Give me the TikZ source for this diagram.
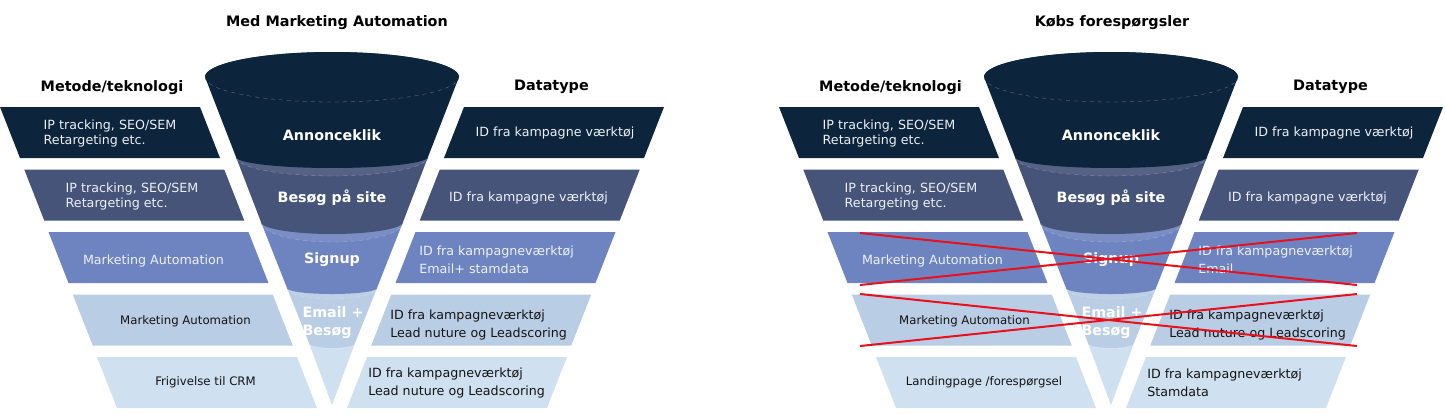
\documentclass[tikz,border=0pt]{standalone}
\usepackage{fontspec}
\setmainfont{DejaVu Sans}
\definecolor{navy}{HTML}{0C243C}
\definecolor{slate}{HTML}{46547A}
\definecolor{periwink}{HTML}{6E84C0}
\definecolor{skyblue}{HTML}{B9CDE4}
\definecolor{paleblue}{HTML}{CFE0F0}
\definecolor{litetext}{HTML}{EDF0F6}
\definecolor{darktext}{HTML}{141414}
\definecolor{crossred}{HTML}{E8101A}

% one slice of the funnel: colour, top y, top half width, top y radius,
% bottom y, bottom half width, bottom y radius, share of colour in the rim
\newcommand{\funnelpart}[8]{%
  \fill[#1] (-#3,#2) -- (-#6,#5)
    -- plot[domain=180:360, samples=36] ({#6*cos(\x)}, {#5-#7*sin(\x)})
    -- (#3,#2)
    -- plot[domain=0:180, samples=36] ({#3*cos(\x)}, {#2-#4*sin(\x)}) -- cycle;
  \fill[#1!#8!white] (0,#2) ellipse [x radius=#3, y radius=#4];
  \draw[#1!55!white, dashed, very thin]
    plot[domain=180:360, samples=36] ({#3*cos(\x)}, {#2-#4*sin(\x)});
}

\begin{document}
\begin{tikzpicture}[
    x=0.75pt, y=-0.75pt,
    every node/.style={font=\fontsize{9.5}{11.3}\selectfont, inner sep=0pt},
    head/.style={font=\fontsize{10.8}{13}\selectfont\bfseries, text=black},
    stage/.style={font=\fontsize{10.7}{13.5}\selectfont\bfseries, text=white},
    lite/.style={text=litetext},
    dark/.style={text=darktext},
    small/.style={font=\fontsize{8.8}{11}\selectfont},
    wide/.style={font=\fontsize{9.5}{13.5}\selectfont, align=left, anchor=west},
    cross/.style={crossred, line width=1.5pt},
]
\useasboundingbox (0,0) rectangle (1446,419);

% ===== Left diagram: Med Marketing Automation =====
\begin{scope}[shift={(332,0)}]
    % Funnel, drawn from the tip upwards
    \funnelpart{paleblue}{343}{23}{6}{405}{0}{0}{94}
    \funnelpart{skyblue}{288}{45}{11}{343}{23}{5}{94}
    \funnelpart{periwink}{222}{71}{20}{288}{45}{6}{92}
    \funnelpart{slate}{157}{96}{19}{222}{71}{12}{92}
    \funnelpart{navy}{77}{127}{25}{157}{96}{11}{100}

    \node[stage] (a-ann) at (0,135) {Annonceklik};
    \node[stage] (a-visit) at (0,198) {Besøg på site};
    \node[stage] (a-signup) at (0,260) {Signup};
    \node[stage, align=left] (a-email) at (1,323) {Email +\\Besøg};

    % Metode/teknologi column
    \fill[navy] (-332,107) -- ++(200,0) -- ++(20,51) -- ++(-200,0) -- cycle;
    \fill[slate] (-307.75,169.5) -- ++(200,0) -- ++(20,51) -- ++(-200,0) -- cycle;
    \fill[periwink] (-283.5,232) -- ++(200,0) -- ++(20,51) -- ++(-200,0) -- cycle;
    \fill[skyblue] (-259.25,294.5) -- ++(200,0) -- ++(20,51) -- ++(-200,0) -- cycle;
    \fill[paleblue] (-235,357) -- ++(200,0) -- ++(20,51) -- ++(-200,0) -- cycle;

    \node[lite, align=left] (a-m1) at (-222,133.5) {IP tracking, SEO/SEM\\Retargeting etc.};
    \node[lite, align=left] (a-m2) at (-200,196.5) {IP tracking, SEO/SEM\\Retargeting etc.};
    \node[lite] (a-m3) at (-178.5,261) {Marketing Automation};
    \node[dark, small] (a-m4) at (-146.5,321) {Marketing Automation};
    \node[dark, small] (a-m5) at (-126.5,382) {Frigivelse til CRM};

    % Datatype column
    \fill[navy] (132,107) -- ++(200,0) -- ++(-20,51) -- ++(-200,0) -- cycle;
    \fill[slate] (107.75,169.5) -- ++(200,0) -- ++(-20,51) -- ++(-200,0) -- cycle;
    \fill[periwink] (83.5,232) -- ++(200,0) -- ++(-20,51) -- ++(-200,0) -- cycle;
    \fill[skyblue] (59.25,294.5) -- ++(200,0) -- ++(-20,51) -- ++(-200,0) -- cycle;
    \fill[paleblue] (35,357) -- ++(200,0) -- ++(-20,51) -- ++(-200,0) -- cycle;

    \node[lite] (a-d1) at (223,133) {ID fra kampagne værktøj};
    \node[lite] (a-d2) at (196.5,198) {ID fra kampagne værktøj};
    \node[lite, wide] (a-d3) at (87,260) {ID fra kampagneværktøj\\Email+ stamdata};
    \node[dark, wide] (a-d4) at (58,325) {ID fra kampagneværktøj\\Lead nuture og Leadscoring};
    \node[dark, wide] (a-d5) at (36,382.5) {ID fra kampagneværktøj\\Lead nuture og Leadscoring};

    % Headings
    \node[head] (a-title) at (5,23) {Med Marketing Automation};
    \node[head] (a-method) at (-220,88) {Metode/teknologi};
    \node[head] (a-data) at (219.5,87) {Datatype};
\end{scope}

% ===== Right diagram: Købs forespørgsler =====
\begin{scope}[shift={(1111,0)}]
    % Funnel, drawn from the tip upwards
    \funnelpart{paleblue}{343}{23}{6}{405}{0}{0}{94}
    \funnelpart{skyblue}{288}{45}{11}{343}{23}{5}{94}
    \funnelpart{periwink}{222}{71}{20}{288}{45}{6}{92}
    \funnelpart{slate}{157}{96}{19}{222}{71}{12}{92}
    \funnelpart{navy}{77}{127}{25}{157}{96}{11}{100}

    \node[stage] (b-ann) at (0,135) {Annonceklik};
    \node[stage] (b-visit) at (0,198) {Besøg på site};
    \node[stage] (b-signup) at (0,260) {Signup};
    \node[stage, align=left] (b-email) at (1,323) {Email +\\Besøg};

    % Metode/teknologi column
    \fill[navy] (-332,107) -- ++(200,0) -- ++(20,51) -- ++(-200,0) -- cycle;
    \fill[slate] (-307.75,169.5) -- ++(200,0) -- ++(20,51) -- ++(-200,0) -- cycle;
    \fill[periwink] (-283.5,232) -- ++(200,0) -- ++(20,51) -- ++(-200,0) -- cycle;
    \fill[skyblue] (-259.25,294.5) -- ++(200,0) -- ++(20,51) -- ++(-200,0) -- cycle;
    \fill[paleblue] (-235,357) -- ++(200,0) -- ++(20,51) -- ++(-200,0) -- cycle;

    \node[lite, align=left] (b-m1) at (-222,133.5) {IP tracking, SEO/SEM\\Retargeting etc.};
    \node[lite, align=left] (b-m2) at (-200,196.5) {IP tracking, SEO/SEM\\Retargeting etc.};
    \node[lite] (b-m3) at (-178.5,261) {Marketing Automation};
    \node[dark, small] (b-m4) at (-146.5,321) {Marketing Automation};
    \node[dark, small] (b-m5) at (-127,382) {Landingpage /forespørgsel};

    % Datatype column
    \fill[navy] (132,107) -- ++(200,0) -- ++(-20,51) -- ++(-200,0) -- cycle;
    \fill[slate] (107.75,169.5) -- ++(200,0) -- ++(-20,51) -- ++(-200,0) -- cycle;
    \fill[periwink] (83.5,232) -- ++(200,0) -- ++(-20,51) -- ++(-200,0) -- cycle;
    \fill[skyblue] (59.25,294.5) -- ++(200,0) -- ++(-20,51) -- ++(-200,0) -- cycle;
    \fill[paleblue] (35,357) -- ++(200,0) -- ++(-20,51) -- ++(-200,0) -- cycle;

    \node[lite] (b-d1) at (223,133) {ID fra kampagne værktøj};
    \node[lite] (b-d2) at (196.5,198) {ID fra kampagne værktøj};
    \node[lite, wide] (b-d3) at (87,260) {ID fra kampagneværktøj\\Email};
    \node[dark, wide] (b-d4) at (58,325) {ID fra kampagneværktøj\\Lead nuture og Leadscoring};
    \node[dark, wide] (b-d5) at (36,382.5) {ID fra kampagneværktøj\\Stamdata};

    % Headings
    \node[head] (b-title) at (1,23) {Købs forespørgsler};
    \node[head] (b-method) at (-220.5,88) {Metode/teknologi};
    \node[head] (b-data) at (219.5,87) {Datatype};

    % Struck-out rows
    \coordinate (b-x1) at (-251,233);
    \coordinate (b-x2) at (246,285);
    \coordinate (b-x3) at (-251,285);
    \coordinate (b-x4) at (246,233);
    \coordinate (b-x5) at (-251,294);
    \coordinate (b-x6) at (246,346);
    \coordinate (b-x7) at (-251,346);
    \coordinate (b-x8) at (246,294);
    \draw[cross] (b-x1) -- (b-x2);
    \draw[cross] (b-x3) -- (b-x4);
    \draw[cross] (b-x5) -- (b-x6);
    \draw[cross] (b-x7) -- (b-x8);
\end{scope}

\end{tikzpicture}
\end{document}
